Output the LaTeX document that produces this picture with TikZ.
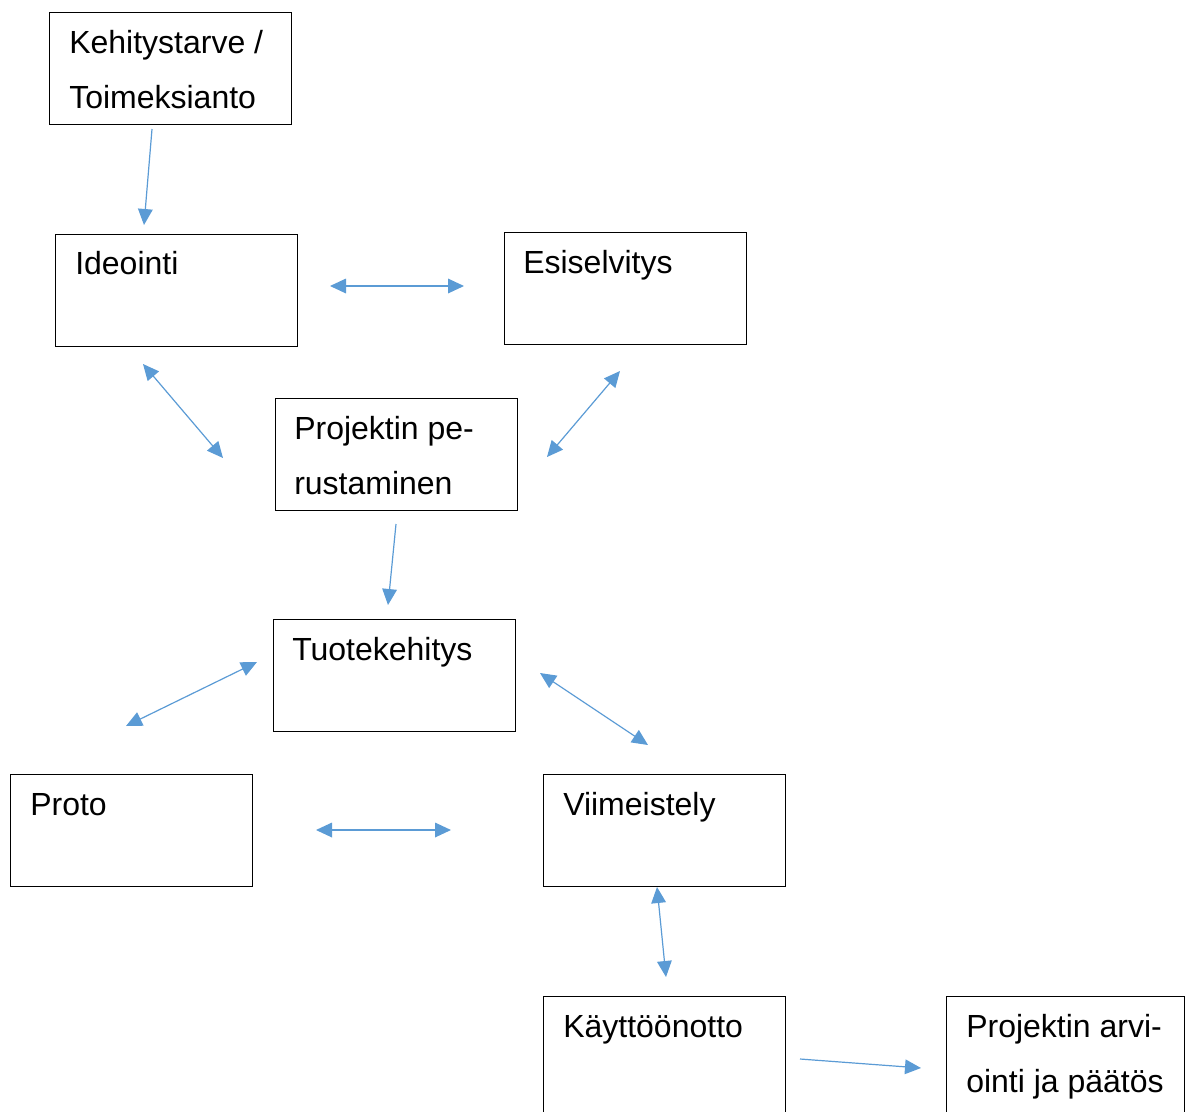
\documentclass[tikz,border=0pt]{standalone}
\usepackage{fontspec}
\setmainfont{Liberation Sans}
\usetikzlibrary{arrows.meta}
\definecolor{arrowblue}{HTML}{5B9BD5}
\begin{document}
\begin{tikzpicture}[x=0.75pt,y=-0.75pt,
  box/.style={draw=black, line width=0.9pt, anchor=north west, minimum width=242*0.75pt, minimum height=112*0.75pt, inner sep=0pt},
  lbl/.style={anchor=base west, inner sep=0pt, font=\fontsize{24pt}{41.25pt}\selectfont},
  conn/.style={draw=arrowblue, line width=0.9pt, -{Triangle[length=12pt,width=11pt]}},
  bconn/.style={draw=arrowblue, line width=0.9pt, {Triangle[length=12pt,width=11pt]}-{Triangle[length=12pt,width=11pt]}}]
\useasboundingbox (0,0) rectangle (1192,1111);
\clip (0,0) rectangle (1192,1111);
% boxes
\node[box] (keh) at (49,12) {};
\node[box] (ide) at (55,234) {};
\node[box] (esi) at (504,232) {};
\node[box] (pro) at (275,398) {};
\node[box] (tuo) at (273,619) {};
\node[box] (prt) at (10,774) {};
\node[box] (vii) at (543,774) {};
\node[box, minimum height=140*0.75pt] (kay) at (543,996) {};
\node[box, minimum width=238*0.75pt, minimum height=140*0.75pt] (arv) at (946,996) {};
% labels
\node[lbl] (tkeh1) at (69,53) {Kehitystarve /};
\node[lbl] (tkeh2) at (69,108) {Toimeksianto};
\node[lbl] (tide) at (75,274) {Ideointi};
\node[lbl] (tesi) at (523,273) {Esiselvitys};
\node[lbl] (tpro1) at (294,439) {Projektin pe-};
\node[lbl] (tpro2) at (294,494) {rustaminen};
\node[lbl] (ttuo) at (292,660) {Tuotekehitys};
\node[lbl] (tprt) at (30,815) {Proto};
\node[lbl] (tvii) at (563,815) {Viimeistely};
\node[lbl] (tkay) at (563,1037) {Käyttöönotto};
\node[lbl] (tarv1) at (966,1037) {Projektin arvi-};
\node[lbl] (tarv2) at (966,1092) {ointi ja päätös};
% connector end points
\coordinate (a1) at (152,129); \coordinate (a2) at (144,225);
\coordinate (b1) at (330,286); \coordinate (b2) at (464,286);
\coordinate (c1) at (143,364); \coordinate (c2) at (223,458);
\coordinate (d1) at (620,371); \coordinate (d2) at (547,457);
\coordinate (e1) at (396,524); \coordinate (e2) at (388,605);
\coordinate (f1) at (257,662); \coordinate (f2) at (126,726);
\coordinate (g1) at (540,673); \coordinate (g2) at (648,745);
\coordinate (h1) at (316,830); \coordinate (h2) at (451,830);
\coordinate (i1) at (657,887); \coordinate (i2) at (666,977);
\coordinate (j1) at (800,1059); \coordinate (j2) at (921,1068);
% connectors
\draw[conn] (a1) -- (a2);
\draw[bconn] (b1) -- (b2);
\draw[bconn] (c1) -- (c2);
\draw[bconn] (d1) -- (d2);
\draw[conn] (e1) -- (e2);
\draw[bconn] (f1) -- (f2);
\draw[bconn] (g1) -- (g2);
\draw[bconn] (h1) -- (h2);
\draw[bconn] (i1) -- (i2);
\draw[conn] (j1) -- (j2);
\end{tikzpicture}
\end{document}
